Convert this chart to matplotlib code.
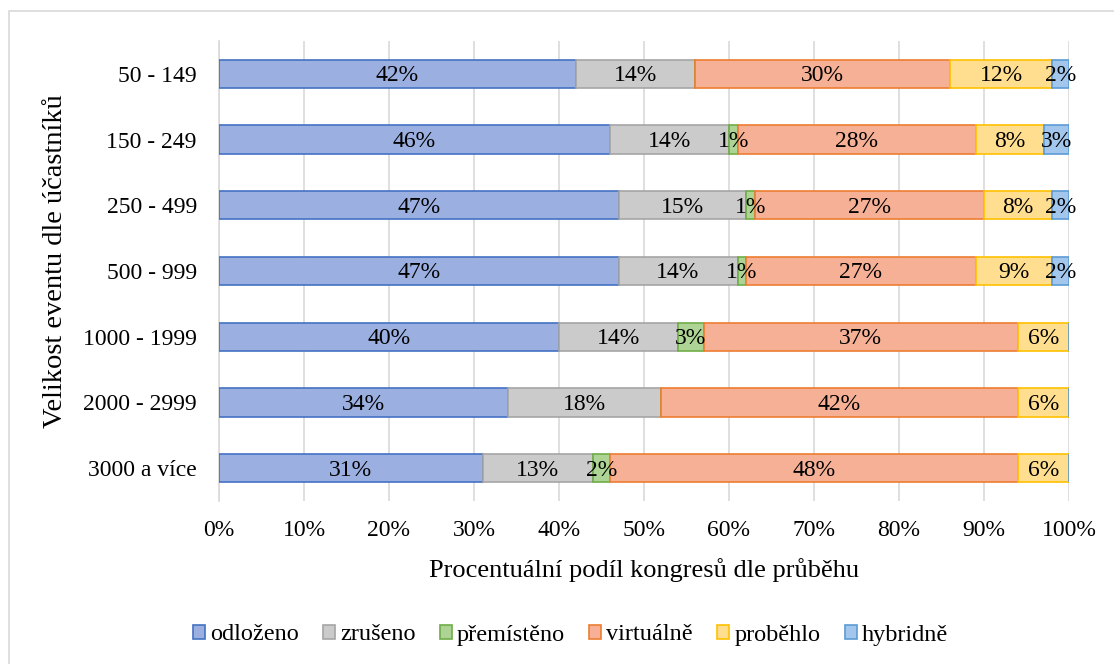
import matplotlib
matplotlib.use("Agg")
import matplotlib.pyplot as plt
from matplotlib.patches import Rectangle
import numpy as np

categories = ["50 - 149", "150 - 249", "250 - 499", "500 - 999", "1000 - 1999", "2000 - 2999", "3000 a více"]
series_names = ["odloženo", "zrušeno", "přemístěno", "virtuálně", "proběhlo", "hybridně"]
odlozeno   = [42, 46, 47, 47, 40, 34, 31]
zruseno    = [14, 14, 15, 14, 14, 18, 13]
premisteno = [0, 1, 1, 1, 3, 0, 2]
virtualne  = [30, 28, 27, 27, 37, 42, 48]
probehlo   = [12, 8, 8, 9, 6, 6, 6]
hybridne   = [2, 3, 2, 2, 0, 0, 0]
xticks = [0, 10, 20, 30, 40, 50, 60, 70, 80, 90, 100]

fills = ["#9BAFE0", "#CBCBCB", "#ADD495", "#F5B096", "#FFDF8F", "#A3C6EC"]
edges = ["#4472C4", "#A5A5A5", "#70AD47", "#ED7D31", "#FFC000", "#5B9BD5"]

plt.rcParams['font.family'] = ['Liberation Serif', 'DejaVu Serif']
fig = plt.figure(figsize=(11.14, 6.64), dpi=100)
ax = fig.add_axes([219/1114, 1-501/664, 850/1114, 460/664])

data = [odlozeno, zruseno, premisteno, virtualne, probehlo, hybridne]
y = np.arange(len(categories))
left = np.zeros(len(categories))
for name, vals, fc, ec in zip(series_names, data, fills, edges):
    vals = np.array(vals, dtype=float)
    ax.barh(y, vals, left=left, height=0.43, color=fc, edgecolor=ec,
            linewidth=1.2, label=name, zorder=3)
    for yi, l, v in zip(y, left, vals):
        if v > 0:
            ax.text(l + v/2, yi + 0.03, f"{int(v)}%", ha='center', va='center',
                    fontsize=17, color='black', zorder=5)
    left += vals

ax.set_xlim(0, 100)
ax.set_ylim(len(categories)-0.5, -0.5)
ax.set_yticks(y)
ax.set_yticklabels(categories, fontsize=17)
ax.set_xticks(xticks)
ax.set_xticklabels([f"{t}%" for t in xticks], fontsize=17)
ax.tick_params(axis='y', length=0, pad=16)
ax.tick_params(axis='x', length=0, pad=14)
ax.grid(axis='x', color='#D9D9D9', linewidth=1.2, zorder=0)
for s in ['top', 'right', 'bottom']:
    ax.spines[s].set_visible(False)
ax.spines['left'].set_color('#D9D9D9')
ax.spines['left'].set_linewidth(1.2)
ax.set_xlabel("Procentuální podíl kongresů dle průběhu", fontsize=19, labelpad=12)
ax.set_ylabel("Velikost eventu dle účastníků", fontsize=20.5)
ax.yaxis.set_label_coords(-0.178, 0.522)

fig.legend(loc='center', bbox_to_anchor=(0.512, 1-635/664), ncol=6, frameon=False,
           fontsize=17.5, handlelength=0.5, handleheight=0.5, handletextpad=0.2,
           columnspacing=1.0)

fig.patches.append(Rectangle((9/1114, -0.1), 1.2, 1-11/664+0.1, transform=fig.transFigure,
                             fill=False, edgecolor='#D9D9D9', linewidth=1.2))
fig.savefig("out.png", dpi=100)
